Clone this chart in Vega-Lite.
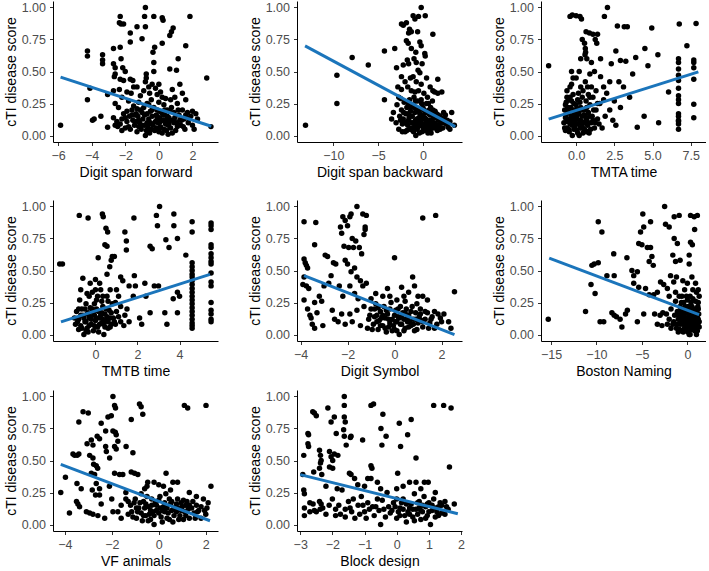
{
"$schema":"https://vega.github.io/schema/vega-lite/v6.json",
"padding":{"left":4,"top":1,"right":0,"bottom":0},
"background":"white",
"config":{
"view":{"stroke":null},
"font":"Liberation Sans",
"axis":{"grid":false,"domainColor":"black","domainWidth":1,"tickColor":"#333333","tickSize":3.5,"tickWidth":1,"labelColor":"#4d4d4d","labelFontSize":12.5,"labelFont":"Liberation Sans","titleFont":"Liberation Sans","titleFontSize":14,"titleFontWeight":"normal","titleColor":"black","labelPadding":4,"titlePadding":3,"labelOverlap":false,"labelFlush":false},
"concat":{"spacing":30},
"circle":{"size":30,"color":"black","opacity":1}
},
"datasets":{
"fits":[
{"p":1,"x":-5.85,"y":0.456},{"p":1,"x":3.12,"y":0.073},
{"p":2,"x":-13.15,"y":0.70},{"p":2,"x":3.6,"y":0.07},
{"p":3,"x":-1.8,"y":0.128},{"p":3,"x":8.0,"y":0.497},
{"p":4,"x":-1.64,"y":0.099},{"p":4,"x":5.45,"y":0.47},
{"p":5,"x":-3.85,"y":0.46},{"p":5,"x":2.55,"y":0.0},
{"p":6,"x":-15.2,"y":0.596},{"p":6,"x":1.29,"y":0.156},
{"p":7,"x":-4.17,"y":0.47},{"p":7,"x":2.18,"y":0.03},
{"p":8,"x":-3.0,"y":0.39},{"p":8,"x":1.9,"y":0.085}
],
"d1":[{"x":-5.85,"y":0.08},{"x":-4.25,"y":0.66},{"x":-4.25,"y":0.62},{"x":-4.25,"y":0.28},{"x":-4.1,"y":0.37},{"x":-3.95,"y":0.12},{"x":-3.85,"y":0.13},{"x":-3.45,"y":0.15},{"x":-3.35,"y":0.63},{"x":-3.35,"y":0.59},{"x":-3.35,"y":0.56},{"x":-3.05,"y":0.32},{"x":-3.05,"y":0.065},{"x":-2.7,"y":0.68},{"x":-2.7,"y":0.56},{"x":-2.6,"y":0.53},{"x":-2.6,"y":0.48},{"x":-2.65,"y":0.46},{"x":-2.7,"y":0.35},{"x":-2.6,"y":0.25},{"x":-2.7,"y":0.14},{"x":-2.6,"y":0.08},{"x":-2.5,"y":0.11},{"x":-2.45,"y":0.07},{"x":-2.3,"y":0.93},{"x":-2.35,"y":0.88},{"x":-2.25,"y":0.87},{"x":-2.1,"y":0.87},{"x":-2.3,"y":0.69},{"x":-2.25,"y":0.6},{"x":-2.15,"y":0.53},{"x":-2.0,"y":0.5},{"x":-2.3,"y":0.44},{"x":-2.1,"y":0.43},{"x":-2.35,"y":0.36},{"x":-2.2,"y":0.3},{"x":-2.4,"y":0.22},{"x":-2.1,"y":0.17},{"x":-2.2,"y":0.13},{"x":-2.3,"y":0.09},{"x":-2.0,"y":0.06},{"x":-1.7,"y":0.8},{"x":-1.7,"y":0.73},{"x":-1.7,"y":0.44},{"x":-1.55,"y":0.43},{"x":-1.5,"y":0.38},{"x":-1.65,"y":0.33},{"x":-1.8,"y":0.27},{"x":-1.6,"y":0.2},{"x":-1.75,"y":0.15},{"x":-1.55,"y":0.12},{"x":-1.7,"y":0.05},{"x":-1.45,"y":0.08},{"x":-1.3,"y":0.85},{"x":-1.0,"y":0.755},{"x":-0.85,"y":0.93},{"x":-0.8,"y":0.85},{"x":-0.8,"y":1.0},{"x":-0.75,"y":0.48},{"x":-0.75,"y":0.45},{"x":-0.8,"y":0.42},{"x":-0.9,"y":0.35},{"x":-1.1,"y":0.31},{"x":-1.2,"y":0.26},{"x":-1.3,"y":0.21},{"x":-1.0,"y":0.18},{"x":-1.25,"y":0.15},{"x":-0.95,"y":0.13},{"x":-1.15,"y":0.1},{"x":-0.85,"y":0.08},{"x":-1.05,"y":0.05},{"x":-0.8,"y":0.0},{"x":-1.35,"y":0.17},{"x":-1.4,"y":0.11},{"x":-0.3,"y":0.93},{"x":-0.25,"y":0.69},{"x":-0.3,"y":0.57},{"x":-0.35,"y":0.65},{"x":-0.3,"y":0.5},{"x":-0.4,"y":0.4},{"x":-0.2,"y":0.37},{"x":-0.55,"y":0.33},{"x":-0.45,"y":0.28},{"x":-0.6,"y":0.24},{"x":-0.3,"y":0.22},{"x":-0.5,"y":0.19},{"x":-0.7,"y":0.17},{"x":-0.4,"y":0.15},{"x":-0.6,"y":0.13},{"x":-0.2,"y":0.11},{"x":-0.5,"y":0.1},{"x":-0.35,"y":0.08},{"x":-0.65,"y":0.06},{"x":-0.25,"y":0.04},{"x":-0.55,"y":0.02},{"x":0.2,"y":0.72},{"x":0.2,"y":0.92},{"x":0.25,"y":0.9},{"x":0.0,"y":0.4},{"x":0.1,"y":0.34},{"x":0.2,"y":0.3},{"x":0.0,"y":0.26},{"x":0.3,"y":0.24},{"x":-0.1,"y":0.2},{"x":0.15,"y":0.18},{"x":0.35,"y":0.16},{"x":0.05,"y":0.14},{"x":0.25,"y":0.12},{"x":-0.05,"y":0.1},{"x":0.4,"y":0.09},{"x":0.1,"y":0.07},{"x":0.3,"y":0.05},{"x":0.0,"y":0.03},{"x":0.55,"y":0.01},{"x":0.5,"y":0.2},{"x":0.6,"y":0.14},{"x":0.65,"y":0.78},{"x":0.75,"y":0.81},{"x":0.85,"y":0.84},{"x":0.65,"y":0.52},{"x":1.05,"y":0.51},{"x":1.25,"y":0.4},{"x":1.15,"y":0.6},{"x":0.8,"y":0.36},{"x":0.95,"y":0.3},{"x":1.1,"y":0.25},{"x":0.75,"y":0.22},{"x":0.9,"y":0.18},{"x":1.2,"y":0.16},{"x":0.85,"y":0.12},{"x":1.05,"y":0.1},{"x":1.3,"y":0.08},{"x":0.7,"y":0.06},{"x":1.0,"y":0.04},{"x":1.4,"y":0.2},{"x":1.5,"y":0.13},{"x":1.85,"y":0.93},{"x":1.6,"y":0.7},{"x":1.6,"y":0.28},{"x":1.7,"y":0.18},{"x":1.9,"y":0.15},{"x":1.75,"y":0.1},{"x":2.0,"y":0.08},{"x":2.2,"y":0.17},{"x":2.3,"y":0.13},{"x":2.1,"y":0.05},{"x":1.55,"y":0.05},{"x":2.85,"y":0.45},{"x":3.1,"y":0.07},{"x":-1.9,"y":0.11},{"x":-1.2,"y":0.07},{"x":-0.15,"y":0.16},{"x":0.45,"y":0.12},{"x":0.95,"y":0.14},{"x":-0.7,"y":0.1},{"x":0.05,"y":0.06},{"x":1.35,"y":0.12},{"x":-1.6,"y":0.16},{"x":0.6,"y":0.09},{"x":-2.2,"y":0.04},{"x":-2.0,"y":0.14},{"x":-1.9,"y":0.19},{"x":-1.8,"y":0.07},{"x":-1.5,"y":0.23},{"x":-1.45,"y":0.16},{"x":-1.3,"y":0.03},{"x":-1.2,"y":0.12},{"x":-1.1,"y":0.2},{"x":-1.0,"y":0.08},{"x":-0.9,"y":0.22},{"x":-0.85,"y":0.16},{"x":-0.75,"y":0.04},{"x":-0.7,"y":0.25},{"x":-0.6,"y":0.09},{"x":-0.45,"y":0.05},{"x":-0.4,"y":0.2},{"x":-0.15,"y":0.06},{"x":-0.1,"y":0.14},{"x":0.05,"y":0.19},{"x":0.1,"y":0.11},{"x":0.2,"y":0.02},{"x":0.25,"y":0.16},{"x":0.35,"y":0.2},{"x":0.45,"y":0.04},{"x":0.5,"y":0.15},{"x":0.55,"y":0.08},{"x":0.65,"y":0.19},{"x":0.7,"y":0.12},{"x":0.8,"y":0.02},{"x":0.9,"y":0.1},{"x":1.1,"y":0.07},{"x":1.15,"y":0.2},{"x":1.25,"y":0.12},{"x":1.45,"y":0.07},{"x":1.6,"y":0.16},{"x":1.8,"y":0.13},{"x":2.0,"y":0.19},{"x":-1.9,"y":0.34},{"x":-1.3,"y":0.38},{"x":-0.6,"y":0.38},{"x":0.4,"y":0.29},{"x":0.7,"y":0.28},{"x":1.4,"y":0.33},{"x":-0.1,"y":0.32}],
"d2":[{"x":-13.1,"y":0.08},{"x":-9.6,"y":0.47},{"x":-9.6,"y":0.25},{"x":-7.9,"y":0.61},{"x":-6.1,"y":0.55},{"x":-4.3,"y":0.66},{"x":-4.3,"y":0.28},{"x":-0.2,"y":1.0},{"x":0.25,"y":0.935},{"x":-1.1,"y":0.935},{"x":-0.9,"y":0.91},{"x":-2.4,"y":0.87},{"x":-2.2,"y":0.86},{"x":-1.85,"y":0.88},{"x":-1.5,"y":0.83},{"x":-1.3,"y":0.81},{"x":-0.6,"y":0.81},{"x":1.1,"y":0.79},{"x":-1.85,"y":0.74},{"x":-1.65,"y":0.72},{"x":-0.35,"y":0.73},{"x":-0.2,"y":0.7},{"x":-3.15,"y":0.68},{"x":-1.3,"y":0.68},{"x":0.2,"y":0.64},{"x":0.25,"y":0.62},{"x":-1.75,"y":0.59},{"x":-1.6,"y":0.56},{"x":-0.75,"y":0.57},{"x":-2.95,"y":0.53},{"x":-0.55,"y":0.51},{"x":-0.35,"y":0.49},{"x":1.65,"y":0.44},{"x":-2.4,"y":0.46},{"x":-1.1,"y":0.46},{"x":-0.75,"y":0.42},{"x":-0.2,"y":0.4},{"x":-2.8,"y":0.38},{"x":-2.4,"y":0.36},{"x":-1.7,"y":0.38},{"x":-1.3,"y":0.35},{"x":-0.9,"y":0.34},{"x":1.1,"y":0.35},{"x":1.3,"y":0.34},{"x":1.65,"y":0.33},{"x":2.1,"y":0.34},{"x":-0.5,"y":0.93},{"x":-1.0,"y":0.6},{"x":-2.0,"y":0.42},{"x":0.4,"y":0.45},{"x":-0.1,"y":0.56},{"x":-3.5,"y":0.13},{"x":-3.3,"y":0.18},{"x":-3.0,"y":0.1},{"x":-2.9,"y":0.24},{"x":-2.7,"y":0.05},{"x":-2.6,"y":0.15},{"x":-2.5,"y":0.29},{"x":-2.4,"y":0.2},{"x":-2.3,"y":0.09},{"x":-2.2,"y":0.13},{"x":-2.1,"y":0.26},{"x":-2.0,"y":0.03},{"x":-1.9,"y":0.17},{"x":-1.8,"y":0.22},{"x":-1.7,"y":0.08},{"x":-1.6,"y":0.12},{"x":-1.5,"y":0.28},{"x":-1.4,"y":0.19},{"x":-1.3,"y":0.06},{"x":-1.2,"y":0.15},{"x":-1.1,"y":0.24},{"x":-1.0,"y":0.1},{"x":-0.9,"y":0.18},{"x":-0.8,"y":0.0},{"x":-0.7,"y":0.13},{"x":-0.6,"y":0.27},{"x":-0.5,"y":0.07},{"x":-0.4,"y":0.2},{"x":-0.3,"y":0.11},{"x":-0.2,"y":0.16},{"x":-0.1,"y":0.03},{"x":0.0,"y":0.22},{"x":0.1,"y":0.09},{"x":0.2,"y":0.14},{"x":0.3,"y":0.05},{"x":0.4,"y":0.19},{"x":0.5,"y":0.12},{"x":0.6,"y":0.25},{"x":0.7,"y":0.08},{"x":0.8,"y":0.16},{"x":0.9,"y":0.02},{"x":1.0,"y":0.11},{"x":1.1,"y":0.2},{"x":1.2,"y":0.06},{"x":1.3,"y":0.14},{"x":1.4,"y":0.09},{"x":1.5,"y":0.17},{"x":1.6,"y":0.04},{"x":1.7,"y":0.12},{"x":1.8,"y":0.08},{"x":1.9,"y":0.15},{"x":2.0,"y":0.1},{"x":2.2,"y":0.06},{"x":2.4,"y":0.13},{"x":2.6,"y":0.09},{"x":2.8,"y":0.065},{"x":3.0,"y":0.11},{"x":3.2,"y":0.18},{"x":3.5,"y":0.08},{"x":-1.45,"y":0.05},{"x":-1.05,"y":0.03},{"x":-0.65,"y":0.05},{"x":-0.25,"y":0.08},{"x":0.15,"y":0.04},{"x":0.55,"y":0.02},{"x":0.95,"y":0.07},{"x":-1.25,"y":0.1},{"x":-0.85,"y":0.12},{"x":-0.45,"y":0.14},{"x":-0.05,"y":0.13},{"x":0.35,"y":0.1},{"x":0.75,"y":0.12},{"x":1.15,"y":0.14},{"x":-1.85,"y":0.1},{"x":-2.15,"y":0.18},{"x":-0.55,"y":0.2},{"x":0.25,"y":0.18},{"x":0.85,"y":0.22},{"x":-0.15,"y":0.25},{"x":-1.0,"y":0.3},{"x":0.5,"y":0.3},{"x":-2.7,"y":0.3},{"x":2.3,"y":0.18},{"x":1.9,"y":0.05},{"x":-0.75,"y":0.09},{"x":0.05,"y":0.06},{"x":0.65,"y":0.17},{"x":-1.6,"y":0.17},{"x":-0.95,"y":0.22},{"x":-2.5,"y":0.12},{"x":-2.3,"y":0.03},{"x":-2.0,"y":0.1},{"x":-1.8,"y":0.04},{"x":-1.65,"y":0.25},{"x":-1.55,"y":0.14},{"x":-1.35,"y":0.22},{"x":-1.15,"y":0.04},{"x":-0.95,"y":0.07},{"x":-0.85,"y":0.27},{"x":-0.7,"y":0.19},{"x":-0.6,"y":0.1},{"x":-0.4,"y":0.02},{"x":-0.35,"y":0.17},{"x":-0.2,"y":0.28},{"x":-0.1,"y":0.09},{"x":0.0,"y":0.15},{"x":0.1,"y":0.2},{"x":0.2,"y":0.07},{"x":0.3,"y":0.13},{"x":0.4,"y":0.25},{"x":0.45,"y":0.06},{"x":0.6,"y":0.1},{"x":0.7,"y":0.2},{"x":0.8,"y":0.04},{"x":1.0,"y":0.17},{"x":1.05,"y":0.27},{"x":1.2,"y":0.1},{"x":1.35,"y":0.19},{"x":1.5,"y":0.06},{"x":1.7,"y":0.16},{"x":2.0,"y":0.14},{"x":2.2,"y":0.1},{"x":2.5,"y":0.16},{"x":2.7,"y":0.12},{"x":3.0,"y":0.05},{"x":-0.5,"y":0.35},{"x":0.1,"y":0.33},{"x":-1.4,"y":0.45},{"x":0.8,"y":0.38},{"x":-2.2,"y":0.55},{"x":-0.8,"y":0.65},{"x":-1.6,"y":0.8}],
"d3":[{"x":-1.8,"y":0.545},{"x":-0.4,"y":0.93},{"x":-0.25,"y":0.94},{"x":0.0,"y":0.935},{"x":0.25,"y":0.93},{"x":0.35,"y":0.91},{"x":0.65,"y":0.81},{"x":0.87,"y":0.8},{"x":1.1,"y":0.79},{"x":1.4,"y":0.79},{"x":1.25,"y":0.75},{"x":1.35,"y":0.72},{"x":0.55,"y":0.72},{"x":0.6,"y":0.68},{"x":0.62,"y":0.65},{"x":0.58,"y":0.63},{"x":0.7,"y":0.6},{"x":0.4,"y":0.75},{"x":1.85,"y":0.93},{"x":2.05,"y":1.0},{"x":2.7,"y":0.855},{"x":3.15,"y":0.85},{"x":3.35,"y":0.85},{"x":4.95,"y":0.84},{"x":6.75,"y":0.87},{"x":7.85,"y":0.875},{"x":7.25,"y":0.7},{"x":4.5,"y":0.68},{"x":5.35,"y":0.63},{"x":4.7,"y":0.545},{"x":2.9,"y":0.585},{"x":3.25,"y":0.58},{"x":3.9,"y":0.61},{"x":2.3,"y":0.56},{"x":4.0,"y":0.065},{"x":4.45,"y":0.15},{"x":5.4,"y":0.1},{"x":6.05,"y":0.34},{"x":2.6,"y":0.66},{"x":3.7,"y":0.48},{"x":3.1,"y":0.38},{"x":2.8,"y":0.42},{"x":2.2,"y":0.42},{"x":1.8,"y":0.38},{"x":1.6,"y":0.46},{"x":1.2,"y":0.5},{"x":0.9,"y":0.48},{"x":3.5,"y":0.3},{"x":2.5,"y":0.27},{"x":2.9,"y":0.22},{"x":2.4,"y":0.12},{"x":2.6,"y":0.08},{"x":1.9,"y":0.15},{"x":2.2,"y":0.2},{"x":6.7,"y":0.6},{"x":6.7,"y":0.57},{"x":6.7,"y":0.52},{"x":6.7,"y":0.47},{"x":6.7,"y":0.43},{"x":6.7,"y":0.37},{"x":6.7,"y":0.31},{"x":6.7,"y":0.28},{"x":6.7,"y":0.25},{"x":6.7,"y":0.17},{"x":6.7,"y":0.15},{"x":6.7,"y":0.12},{"x":6.7,"y":0.11},{"x":6.7,"y":0.09},{"x":6.7,"y":0.05},{"x":7.7,"y":0.59},{"x":7.7,"y":0.57},{"x":7.7,"y":0.53},{"x":7.7,"y":0.44},{"x":7.7,"y":0.245},{"x":7.7,"y":0.14},{"x":-0.8,"y":0.1},{"x":-0.7,"y":0.14},{"x":-0.75,"y":0.2},{"x":-0.6,"y":0.06},{"x":-0.65,"y":0.26},{"x":-0.5,"y":0.12},{"x":-0.55,"y":0.18},{"x":-0.45,"y":0.03},{"x":-0.4,"y":0.3},{"x":-0.4,"y":0.09},{"x":-0.35,"y":0.22},{"x":-0.3,"y":0.15},{"x":-0.25,"y":0.0},{"x":-0.2,"y":0.11},{"x":-0.15,"y":0.25},{"x":-0.1,"y":0.07},{"x":-0.05,"y":0.19},{"x":0.0,"y":0.13},{"x":0.05,"y":0.04},{"x":0.1,"y":0.28},{"x":0.1,"y":0.09},{"x":0.15,"y":0.17},{"x":0.2,"y":0.0},{"x":0.25,"y":0.12},{"x":0.3,"y":0.22},{"x":0.35,"y":0.06},{"x":0.4,"y":0.15},{"x":0.45,"y":0.35},{"x":0.5,"y":0.1},{"x":0.55,"y":0.2},{"x":0.6,"y":0.04},{"x":0.65,"y":0.27},{"x":0.7,"y":0.13},{"x":0.75,"y":0.08},{"x":0.8,"y":0.18},{"x":0.85,"y":0.02},{"x":0.9,"y":0.24},{"x":1.0,"y":0.1},{"x":1.05,"y":0.15},{"x":1.1,"y":0.3},{"x":1.2,"y":0.06},{"x":1.3,"y":0.2},{"x":1.4,"y":0.13},{"x":1.5,"y":0.09},{"x":1.55,"y":0.25},{"x":1.7,"y":0.06},{"x":-0.6,"y":0.35},{"x":-0.3,"y":0.4},{"x":0.0,"y":0.45},{"x":0.2,"y":0.5},{"x":-0.2,"y":0.32},{"x":0.3,"y":0.38},{"x":0.6,"y":0.42},{"x":-0.5,"y":0.28},{"x":0.15,"y":0.33},{"x":-0.7,"y":0.04},{"x":-0.15,"y":0.05},{"x":0.45,"y":0.02},{"x":0.8,"y":0.32},{"x":1.0,"y":0.38},{"x":-0.1,"y":0.17},{"x":0.35,"y":0.11},{"x":-0.45,"y":0.13},{"x":0.05,"y":0.21},{"x":0.6,"y":0.15},{"x":-0.25,"y":0.08},{"x":0.25,"y":0.06},{"x":0.7,"y":0.22},{"x":1.6,"y":0.6},{"x":1.0,"y":0.57},{"x":0.3,"y":0.6},{"x":-0.3,"y":0.5},{"x":1.8,"y":0.28},{"x":2.0,"y":0.33},{"x":-0.75,"y":0.06},{"x":-0.7,"y":0.24},{"x":-0.65,"y":0.16},{"x":-0.6,"y":0.11},{"x":-0.55,"y":0.22},{"x":-0.5,"y":0.05},{"x":-0.45,"y":0.18},{"x":-0.35,"y":0.1},{"x":-0.3,"y":0.27},{"x":-0.2,"y":0.14},{"x":-0.15,"y":0.2},{"x":-0.05,"y":0.1},{"x":0.0,"y":0.24},{"x":0.05,"y":0.15},{"x":0.1,"y":0.02},{"x":0.2,"y":0.19},{"x":0.25,"y":0.26},{"x":0.3,"y":0.1},{"x":0.4,"y":0.07},{"x":0.45,"y":0.2},{"x":0.5,"y":0.16},{"x":0.55,"y":0.05},{"x":0.65,"y":0.12},{"x":0.7,"y":0.03},{"x":0.8,"y":0.1},{"x":0.9,"y":0.15},{"x":0.95,"y":0.05},{"x":1.1,"y":0.12},{"x":1.15,"y":0.2},{"x":1.25,"y":0.1},{"x":-0.6,"y":0.3},{"x":-0.2,"y":0.45},{"x":0.4,"y":0.3},{"x":0.9,"y":0.3},{"x":1.3,"y":0.35},{"x":-0.4,"y":0.38},{"x":0.75,"y":0.38},{"x":1.4,"y":0.25}],
"d4":[{"x":-1.7,"y":0.55},{"x":-1.57,"y":0.55},{"x":-0.77,"y":0.93},{"x":-0.35,"y":0.91},{"x":0.33,"y":0.94},{"x":0.37,"y":0.92},{"x":1.83,"y":0.91},{"x":2.9,"y":0.93},{"x":2.95,"y":0.85},{"x":3.05,"y":1.0},{"x":3.73,"y":0.94},{"x":3.73,"y":0.85},{"x":3.9,"y":0.75},{"x":4.6,"y":0.88},{"x":4.6,"y":0.8},{"x":4.6,"y":0.56},{"x":4.6,"y":0.53},{"x":4.6,"y":0.5},{"x":4.6,"y":0.47},{"x":4.6,"y":0.45},{"x":4.6,"y":0.42},{"x":4.6,"y":0.39},{"x":4.6,"y":0.36},{"x":4.6,"y":0.33},{"x":4.6,"y":0.3},{"x":4.6,"y":0.27},{"x":4.6,"y":0.24},{"x":4.6,"y":0.21},{"x":4.6,"y":0.18},{"x":4.6,"y":0.15},{"x":4.6,"y":0.12},{"x":4.6,"y":0.09},{"x":4.6,"y":0.07},{"x":4.6,"y":0.05},{"x":5.5,"y":0.87},{"x":5.5,"y":0.85},{"x":5.5,"y":0.82},{"x":5.5,"y":0.7},{"x":5.5,"y":0.68},{"x":5.5,"y":0.63},{"x":5.5,"y":0.6},{"x":5.5,"y":0.57},{"x":5.5,"y":0.55},{"x":5.5,"y":0.48},{"x":5.5,"y":0.41},{"x":5.5,"y":0.38},{"x":5.5,"y":0.25},{"x":5.5,"y":0.19},{"x":5.5,"y":0.16},{"x":5.5,"y":0.12},{"x":5.5,"y":0.1},{"x":4.3,"y":0.62},{"x":3.35,"y":0.74},{"x":3.5,"y":0.68},{"x":2.6,"y":0.69},{"x":2.7,"y":0.67},{"x":1.4,"y":0.8},{"x":1.47,"y":0.73},{"x":1.47,"y":0.66},{"x":0.5,"y":0.83},{"x":0.58,"y":0.8},{"x":0.45,"y":0.7},{"x":0.55,"y":0.69},{"x":0.8,"y":0.61},{"x":0.9,"y":0.61},{"x":0.75,"y":0.58},{"x":0.68,"y":0.53},{"x":0.13,"y":0.6},{"x":0.55,"y":0.47},{"x":1.2,"y":0.45},{"x":1.3,"y":0.42},{"x":1.6,"y":0.38},{"x":1.85,"y":0.46},{"x":1.9,"y":0.38},{"x":2.35,"y":0.4},{"x":2.4,"y":0.3},{"x":2.8,"y":0.38},{"x":3.0,"y":0.38},{"x":3.3,"y":0.17},{"x":3.4,"y":0.08},{"x":3.9,"y":0.17},{"x":3.9,"y":0.33},{"x":4.0,"y":0.3},{"x":3.7,"y":0.28},{"x":2.6,"y":0.17},{"x":2.1,"y":0.13},{"x":2.2,"y":0.08},{"x":1.8,"y":0.3},{"x":1.5,"y":0.2},{"x":1.4,"y":0.15},{"x":1.35,"y":0.07},{"x":0.95,"y":0.25},{"x":1.1,"y":0.3},{"x":1.0,"y":0.18},{"x":0.9,"y":0.1},{"x":-0.9,"y":0.18},{"x":-0.8,"y":0.12},{"x":-0.75,"y":0.27},{"x":-0.7,"y":0.07},{"x":-0.65,"y":0.2},{"x":-0.6,"y":0.15},{"x":-0.55,"y":0.0},{"x":-0.5,"y":0.1},{"x":-0.45,"y":0.24},{"x":-0.4,"y":0.05},{"x":-0.35,"y":0.17},{"x":-0.3,"y":0.13},{"x":-0.25,"y":0.4},{"x":-0.2,"y":0.08},{"x":-0.15,"y":0.2},{"x":-0.1,"y":0.03},{"x":-0.05,"y":0.15},{"x":0.0,"y":0.11},{"x":0.05,"y":0.27},{"x":0.1,"y":0.06},{"x":0.15,"y":0.18},{"x":0.2,"y":0.13},{"x":0.25,"y":0.35},{"x":0.3,"y":0.09},{"x":0.35,"y":0.22},{"x":0.4,"y":0.0},{"x":0.45,"y":0.16},{"x":0.5,"y":0.11},{"x":0.55,"y":0.3},{"x":0.6,"y":0.05},{"x":0.65,"y":0.19},{"x":0.7,"y":0.13},{"x":0.75,"y":0.08},{"x":0.8,"y":0.24},{"x":-0.6,"y":0.44},{"x":-0.3,"y":0.3},{"x":0.0,"y":0.43},{"x":0.2,"y":0.4},{"x":-0.15,"y":0.33},{"x":0.1,"y":0.3},{"x":-0.45,"y":0.1},{"x":-0.05,"y":0.07},{"x":0.3,"y":0.17},{"x":-0.25,"y":0.14},{"x":0.05,"y":0.2},{"x":0.45,"y":0.06},{"x":-0.8,"y":0.04},{"x":-0.35,"y":0.02},{"x":0.15,"y":0.02},{"x":0.6,"y":0.26},{"x":-1.0,"y":0.13},{"x":-0.95,"y":0.08},{"x":-0.85,"y":0.1},{"x":-0.8,"y":0.2},{"x":-0.7,"y":0.15},{"x":-0.65,"y":0.05},{"x":-0.55,"y":0.13},{"x":-0.5,"y":0.2},{"x":-0.45,"y":0.03},{"x":-0.4,"y":0.16},{"x":-0.3,"y":0.07},{"x":-0.25,"y":0.21},{"x":-0.2,"y":0.12},{"x":-0.1,"y":0.17},{"x":-0.05,"y":0.24},{"x":0.0,"y":0.06},{"x":0.05,"y":0.13},{"x":0.1,"y":0.19},{"x":0.2,"y":0.08},{"x":0.25,"y":0.15},{"x":0.3,"y":0.26},{"x":0.35,"y":0.12},{"x":0.4,"y":0.08},{"x":0.5,"y":0.2},{"x":0.55,"y":0.14},{"x":0.6,"y":0.1},{"x":0.7,"y":0.06},{"x":0.75,"y":0.17},{"x":0.85,"y":0.13},{"x":0.95,"y":0.08},{"x":1.1,"y":0.14},{"x":1.2,"y":0.1},{"x":-0.4,"y":0.32},{"x":0.0,"y":0.35},{"x":0.35,"y":0.3},{"x":0.7,"y":0.35},{"x":-0.7,"y":0.35},{"x":1.0,"y":0.35},{"x":1.2,"y":0.22},{"x":1.6,"y":0.1}],
"d5":[{"x":-3.85,"y":0.88},{"x":-3.35,"y":0.875},{"x":-3.4,"y":0.7},{"x":-3.85,"y":0.59},{"x":-3.8,"y":0.56},{"x":-3.75,"y":0.54},{"x":-3.7,"y":0.52},{"x":-3.85,"y":0.45},{"x":-3.9,"y":0.39},{"x":-3.75,"y":0.38},{"x":-3.65,"y":0.36},{"x":-3.85,"y":0.27},{"x":-3.7,"y":0.2},{"x":-3.6,"y":0.15},{"x":-3.55,"y":0.13},{"x":-3.5,"y":0.08},{"x":-3.4,"y":0.05},{"x":-3.4,"y":0.25},{"x":-3.3,"y":0.17},{"x":-3.2,"y":0.3},{"x":-3.1,"y":0.26},{"x":-3.05,"y":0.07},{"x":-3.0,"y":0.38},{"x":-2.95,"y":0.62},{"x":-2.85,"y":0.61},{"x":-2.8,"y":0.4},{"x":-2.7,"y":0.46},{"x":-2.6,"y":0.56},{"x":-2.5,"y":0.55},{"x":-2.65,"y":0.19},{"x":-2.55,"y":0.12},{"x":-2.4,"y":0.1},{"x":-2.35,"y":0.38},{"x":-2.2,"y":0.3},{"x":-2.25,"y":0.16},{"x":-2.1,"y":0.08},{"x":-2.3,"y":0.84},{"x":-2.25,"y":0.79},{"x":-2.2,"y":0.92},{"x":-2.1,"y":0.89},{"x":-2.15,"y":0.69},{"x":-2.0,"y":0.85},{"x":-1.95,"y":0.68},{"x":-1.9,"y":0.92},{"x":-1.85,"y":0.94},{"x":-1.8,"y":0.75},{"x":-1.75,"y":0.68},{"x":-1.6,"y":1.0},{"x":-1.65,"y":0.73},{"x":-1.5,"y":0.68},{"x":-1.4,"y":0.63},{"x":-1.35,"y":0.94},{"x":-1.3,"y":0.78},{"x":-1.25,"y":0.84},{"x":-1.2,"y":0.93},{"x":-1.25,"y":0.82},{"x":-2.1,"y":0.58},{"x":-2.0,"y":0.55},{"x":-1.85,"y":0.49},{"x":-1.7,"y":0.52},{"x":-1.6,"y":0.45},{"x":-1.45,"y":0.42},{"x":-1.35,"y":0.38},{"x":-1.2,"y":0.4},{"x":-1.9,"y":0.38},{"x":-1.7,"y":0.32},{"x":-1.55,"y":0.28},{"x":-1.9,"y":0.16},{"x":-1.8,"y":0.1},{"x":-1.6,"y":0.19},{"x":-1.45,"y":0.07},{"x":-1.3,"y":0.22},{"x":-1.1,"y":0.12},{"x":-1.15,"y":0.05},{"x":1.2,"y":0.91},{"x":1.75,"y":0.93},{"x":0.0,"y":0.6},{"x":0.77,"y":0.45},{"x":2.55,"y":0.335},{"x":0.6,"y":0.33},{"x":0.3,"y":0.37},{"x":-0.3,"y":0.36},{"x":-0.8,"y":0.32},{"x":-0.5,"y":0.3},{"x":1.0,"y":0.3},{"x":1.4,"y":0.27},{"x":0.85,"y":0.38},{"x":-1.0,"y":0.2},{"x":-0.9,"y":0.08},{"x":-0.85,"y":0.14},{"x":-0.8,"y":0.24},{"x":-0.7,"y":0.04},{"x":-0.65,"y":0.11},{"x":-0.6,"y":0.18},{"x":-0.5,"y":0.07},{"x":-0.45,"y":0.22},{"x":-0.4,"y":0.13},{"x":-0.35,"y":0.02},{"x":-0.3,"y":0.16},{"x":-0.2,"y":0.09},{"x":-0.15,"y":0.25},{"x":-0.1,"y":0.12},{"x":0.0,"y":0.04},{"x":0.05,"y":0.19},{"x":0.1,"y":0.1},{"x":0.15,"y":0.14},{"x":0.2,"y":0.0},{"x":0.25,"y":0.22},{"x":0.3,"y":0.08},{"x":0.35,"y":0.17},{"x":0.4,"y":0.12},{"x":0.45,"y":0.05},{"x":0.5,"y":0.2},{"x":0.55,"y":0.1},{"x":0.6,"y":0.15},{"x":0.7,"y":0.07},{"x":0.75,"y":0.22},{"x":0.8,"y":0.12},{"x":0.85,"y":0.03},{"x":0.9,"y":0.17},{"x":1.0,"y":0.09},{"x":1.05,"y":0.14},{"x":1.1,"y":0.2},{"x":1.2,"y":0.06},{"x":1.3,"y":0.12},{"x":1.4,"y":0.17},{"x":1.5,"y":0.09},{"x":1.6,"y":0.14},{"x":1.7,"y":0.05},{"x":1.85,"y":0.16},{"x":2.0,"y":0.1},{"x":2.3,"y":0.1},{"x":2.4,"y":0.05},{"x":-0.55,"y":0.13},{"x":-0.25,"y":0.06},{"x":0.2,"y":0.13},{"x":0.65,"y":0.1},{"x":1.15,"y":0.11},{"x":-0.75,"y":0.15},{"x":0.45,"y":0.26},{"x":-0.05,"y":0.07},{"x":0.95,"y":0.24},{"x":0.1,"y":0.03},{"x":-1.05,"y":0.15},{"x":-0.95,"y":0.04},{"x":-0.85,"y":0.2},{"x":-0.75,"y":0.1},{"x":-0.7,"y":0.21},{"x":-0.6,"y":0.07},{"x":-0.5,"y":0.15},{"x":-0.4,"y":0.05},{"x":-0.35,"y":0.19},{"x":-0.25,"y":0.12},{"x":-0.2,"y":0.2},{"x":-0.1,"y":0.03},{"x":0.0,"y":0.15},{"x":0.05,"y":0.1},{"x":0.15,"y":0.2},{"x":0.25,"y":0.08},{"x":0.3,"y":0.14},{"x":0.4,"y":0.03},{"x":0.45,"y":0.17},{"x":0.55,"y":0.13},{"x":0.6,"y":0.06},{"x":0.7,"y":0.18},{"x":0.8,"y":0.08},{"x":0.9,"y":0.12},{"x":0.95,"y":0.04},{"x":1.1,"y":0.16},{"x":1.2,"y":0.1},{"x":1.3,"y":0.18},{"x":1.45,"y":0.05},{"x":1.55,"y":0.12},{"x":1.7,"y":0.18},{"x":1.8,"y":0.08},{"x":1.95,"y":0.13},{"x":2.1,"y":0.16},{"x":-0.2,"y":0.3},{"x":0.4,"y":0.3},{"x":1.2,"y":0.3},{"x":-1.0,"y":0.28},{"x":0.1,"y":0.27}],
"d6":[{"x":-15.3,"y":0.12},{"x":-9.8,"y":0.88},{"x":-9.4,"y":0.8},{"x":-10.5,"y":0.54},{"x":-10.25,"y":0.55},{"x":-9.8,"y":0.56},{"x":-10.6,"y":0.39},{"x":-10.15,"y":0.32},{"x":-11.2,"y":0.18},{"x":-9.6,"y":0.1},{"x":-9.2,"y":0.1},{"x":-8.85,"y":0.46},{"x":-8.1,"y":0.63},{"x":-8.05,"y":0.46},{"x":-8.3,"y":0.17},{"x":-8.05,"y":0.15},{"x":-7.8,"y":0.14},{"x":-7.4,"y":0.12},{"x":-7.2,"y":0.06},{"x":-6.65,"y":0.6},{"x":-6.8,"y":0.16},{"x":-6.6,"y":0.19},{"x":-6.1,"y":0.5},{"x":-5.9,"y":0.46},{"x":-5.9,"y":0.4},{"x":-5.5,"y":0.1},{"x":-4.9,"y":0.94},{"x":-5.15,"y":0.8},{"x":-4.8,"y":0.84},{"x":-5.35,"y":0.71},{"x":-5.0,"y":0.7},{"x":-4.4,"y":0.68},{"x":-4.05,"y":0.68},{"x":-5.5,"y":0.49},{"x":-5.35,"y":0.37},{"x":-4.6,"y":0.36},{"x":-4.2,"y":0.31},{"x":-4.8,"y":0.16},{"x":-4.05,"y":0.88},{"x":-3.9,"y":0.61},{"x":-4.2,"y":0.57},{"x":-3.75,"y":0.54},{"x":-2.5,"y":1.0},{"x":-2.4,"y":0.86},{"x":-2.0,"y":0.84},{"x":-1.45,"y":0.92},{"x":-0.9,"y":0.93},{"x":0.35,"y":0.93},{"x":0.75,"y":0.92},{"x":1.1,"y":0.93},{"x":0.8,"y":0.82},{"x":0.35,"y":0.72},{"x":0.55,"y":0.7},{"x":0.2,"y":0.62},{"x":-1.45,"y":0.75},{"x":-1.1,"y":0.71},{"x":-1.6,"y":0.62},{"x":-1.3,"y":0.57},{"x":-0.8,"y":0.58},{"x":0.2,"y":0.55},{"x":-1.85,"y":0.46},{"x":-1.5,"y":0.41},{"x":-2.95,"y":0.41},{"x":-2.6,"y":0.39},{"x":-2.2,"y":0.36},{"x":-3.3,"y":0.33},{"x":-3.7,"y":0.31},{"x":-3.6,"y":0.16},{"x":-3.0,"y":0.15},{"x":-2.7,"y":0.17},{"x":-2.3,"y":0.16},{"x":-3.3,"y":0.08},{"x":-2.8,"y":0.07},{"x":-2.0,"y":0.3},{"x":-1.2,"y":0.45},{"x":-0.5,"y":0.42},{"x":0.0,"y":0.4},{"x":0.5,"y":0.45},{"x":1.0,"y":0.33},{"x":0.9,"y":0.4},{"x":-0.3,"y":0.35},{"x":-2.0,"y":0.12},{"x":-1.8,"y":0.2},{"x":-1.6,"y":0.08},{"x":-1.4,"y":0.15},{"x":-1.3,"y":0.26},{"x":-1.2,"y":0.05},{"x":-1.1,"y":0.18},{"x":-1.0,"y":0.12},{"x":-0.9,"y":0.3},{"x":-0.8,"y":0.08},{"x":-0.7,"y":0.2},{"x":-0.6,"y":0.03},{"x":-0.5,"y":0.15},{"x":-0.4,"y":0.25},{"x":-0.3,"y":0.1},{"x":-0.2,"y":0.18},{"x":-0.1,"y":0.05},{"x":0.0,"y":0.13},{"x":0.1,"y":0.22},{"x":0.2,"y":0.0},{"x":0.3,"y":0.1},{"x":0.4,"y":0.17},{"x":0.5,"y":0.06},{"x":0.6,"y":0.28},{"x":0.7,"y":0.12},{"x":0.8,"y":0.03},{"x":0.9,"y":0.2},{"x":1.0,"y":0.09},{"x":1.1,"y":0.15},{"x":1.2,"y":0.25},{"x":1.3,"y":0.06},{"x":1.2,"y":0.12},{"x":1.0,"y":0.18},{"x":0.8,"y":0.14},{"x":0.6,"y":0.09},{"x":0.4,"y":0.04},{"x":0.2,"y":0.16},{"x":0.0,"y":0.27},{"x":-0.2,"y":0.07},{"x":-0.4,"y":0.12},{"x":-0.6,"y":0.17},{"x":-0.8,"y":0.22},{"x":-1.0,"y":0.02},{"x":1.3,"y":0.3},{"x":1.1,"y":0.03},{"x":0.9,"y":0.07},{"x":0.7,"y":0.17},{"x":0.5,"y":0.22},{"x":0.3,"y":0.3},{"x":0.1,"y":0.08},{"x":-0.1,"y":0.2},{"x":-0.3,"y":0.05},{"x":-0.5,"y":0.08},{"x":-0.7,"y":0.12},{"x":1.2,"y":0.2},{"x":0.95,"y":0.12},{"x":0.65,"y":0.04},{"x":0.35,"y":0.13},{"x":0.05,"y":0.17},{"x":-1.1,"y":0.08},{"x":-0.95,"y":0.15},{"x":-0.85,"y":0.04},{"x":-0.75,"y":0.1},{"x":-0.65,"y":0.25},{"x":-0.55,"y":0.12},{"x":-0.45,"y":0.02},{"x":-0.35,"y":0.15},{"x":-0.25,"y":0.22},{"x":-0.15,"y":0.12},{"x":-0.05,"y":0.1},{"x":0.05,"y":0.02},{"x":0.15,"y":0.13},{"x":0.25,"y":0.07},{"x":0.35,"y":0.2},{"x":0.45,"y":0.1},{"x":0.55,"y":0.15},{"x":0.65,"y":0.2},{"x":0.75,"y":0.07},{"x":0.85,"y":0.18},{"x":0.95,"y":0.04},{"x":1.05,"y":0.12},{"x":1.15,"y":0.08},{"x":1.25,"y":0.16},{"x":1.3,"y":0.1},{"x":1.15,"y":0.22},{"x":0.9,"y":0.26},{"x":0.4,"y":0.25},{"x":-0.1,"y":0.3},{"x":-1.5,"y":0.1},{"x":-1.8,"y":0.05},{"x":-2.2,"y":0.08},{"x":-1.3,"y":0.33},{"x":0.6,"y":0.35},{"x":1.2,"y":0.35},{"x":-0.6,"y":0.3},{"x":1.0,"y":0.0},{"x":0.3,"y":0.0}],
"d7":[{"x":-4.17,"y":0.25},{"x":-3.97,"y":0.37},{"x":-3.8,"y":0.09},{"x":-3.65,"y":0.55},{"x":-3.58,"y":0.54},{"x":-3.4,"y":0.8},{"x":-3.47,"y":0.54},{"x":-3.4,"y":0.55},{"x":-3.48,"y":0.32},{"x":-3.5,"y":0.18},{"x":-3.44,"y":0.16},{"x":-3.37,"y":0.14},{"x":-3.22,"y":0.88},{"x":-3.0,"y":0.87},{"x":-3.3,"y":0.28},{"x":-3.08,"y":0.1},{"x":-2.94,"y":0.09},{"x":-2.8,"y":0.08},{"x":-3.05,"y":0.63},{"x":-2.87,"y":0.66},{"x":-2.8,"y":0.62},{"x":-2.94,"y":0.54},{"x":-2.8,"y":0.52},{"x":-2.77,"y":0.47},{"x":-2.66,"y":0.46},{"x":-2.6,"y":0.44},{"x":-2.87,"y":0.4},{"x":-2.73,"y":0.39},{"x":-2.66,"y":0.32},{"x":-2.52,"y":0.28},{"x":-2.83,"y":0.27},{"x":-2.69,"y":0.23},{"x":-2.52,"y":0.23},{"x":-2.45,"y":0.16},{"x":-2.59,"y":0.07},{"x":-2.3,"y":0.05},{"x":-2.62,"y":0.69},{"x":-2.52,"y":0.67},{"x":-2.45,"y":0.79},{"x":-2.26,"y":0.73},{"x":-2.16,"y":0.84},{"x":-2.02,"y":0.85},{"x":-1.95,"y":1.0},{"x":-1.88,"y":0.93},{"x":-1.84,"y":0.91},{"x":-2.26,"y":0.61},{"x":-2.23,"y":0.57},{"x":-2.09,"y":0.52},{"x":-1.95,"y":0.73},{"x":-1.85,"y":0.72},{"x":-1.81,"y":0.7},{"x":-1.74,"y":0.65},{"x":-1.88,"y":0.61},{"x":-1.81,"y":0.59},{"x":-1.88,"y":0.4},{"x":-1.67,"y":0.39},{"x":-1.53,"y":0.39},{"x":-1.39,"y":0.61},{"x":-1.17,"y":0.82},{"x":-1.1,"y":0.56},{"x":-1.17,"y":0.41},{"x":-1.03,"y":0.4},{"x":-0.89,"y":0.39},{"x":-0.82,"y":0.94},{"x":-0.75,"y":0.92},{"x":-0.68,"y":0.86},{"x":1.09,"y":0.93},{"x":1.23,"y":0.91},{"x":2.01,"y":0.93},{"x":2.22,"y":0.3},{"x":-0.47,"y":0.33},{"x":0.31,"y":0.4},{"x":-1.95,"y":0.1},{"x":-1.74,"y":0.1},{"x":-2.1,"y":0.3},{"x":-2.0,"y":0.2},{"x":-1.6,"y":0.15},{"x":-1.4,"y":0.25},{"x":-1.3,"y":0.08},{"x":-0.2,"y":0.33},{"x":0.0,"y":0.31},{"x":0.6,"y":0.33},{"x":0.8,"y":0.33},{"x":1.3,"y":0.25},{"x":1.6,"y":0.22},{"x":1.9,"y":0.2},{"x":2.1,"y":0.17},{"x":2.0,"y":0.08},{"x":1.8,"y":0.05},{"x":-0.6,"y":0.28},{"x":-1.2,"y":0.15},{"x":-1.1,"y":0.06},{"x":-1.0,"y":0.2},{"x":-0.9,"y":0.1},{"x":-0.8,"y":0.17},{"x":-0.7,"y":0.03},{"x":-0.6,"y":0.13},{"x":-0.5,"y":0.22},{"x":-0.4,"y":0.08},{"x":-0.3,"y":0.15},{"x":-0.2,"y":0.0},{"x":-0.1,"y":0.11},{"x":0.0,"y":0.19},{"x":0.1,"y":0.06},{"x":0.2,"y":0.14},{"x":0.3,"y":0.24},{"x":0.4,"y":0.09},{"x":0.5,"y":0.16},{"x":0.6,"y":0.02},{"x":0.7,"y":0.12},{"x":0.8,"y":0.2},{"x":0.9,"y":0.07},{"x":1.0,"y":0.14},{"x":1.1,"y":0.1},{"x":1.2,"y":0.18},{"x":1.3,"y":0.05},{"x":1.4,"y":0.13},{"x":1.5,"y":0.09},{"x":1.6,"y":0.15},{"x":1.7,"y":0.11},{"x":-0.95,"y":0.13},{"x":-0.55,"y":0.07},{"x":-0.15,"y":0.17},{"x":0.25,"y":0.1},{"x":0.65,"y":0.07},{"x":1.05,"y":0.04},{"x":-0.75,"y":0.24},{"x":-0.35,"y":0.04},{"x":0.05,"y":0.13},{"x":0.45,"y":0.2},{"x":0.85,"y":0.13},{"x":1.25,"y":0.12},{"x":-0.45,"y":0.14},{"x":0.15,"y":0.02},{"x":0.55,"y":0.11},{"x":0.95,"y":0.17},{"x":-0.25,"y":0.1},{"x":0.35,"y":0.05},{"x":0.75,"y":0.16},{"x":1.15,"y":0.15},{"x":-1.3,"y":0.18},{"x":-0.65,"y":0.18},{"x":-1.15,"y":0.1},{"x":-1.05,"y":0.17},{"x":-0.95,"y":0.05},{"x":-0.85,"y":0.13},{"x":-0.75,"y":0.09},{"x":-0.65,"y":0.07},{"x":-0.55,"y":0.16},{"x":-0.45,"y":0.03},{"x":-0.35,"y":0.11},{"x":-0.3,"y":0.2},{"x":-0.2,"y":0.07},{"x":-0.1,"y":0.15},{"x":0.0,"y":0.09},{"x":0.05,"y":0.22},{"x":0.15,"y":0.11},{"x":0.25,"y":0.17},{"x":0.35,"y":0.13},{"x":0.45,"y":0.04},{"x":0.55,"y":0.18},{"x":0.65,"y":0.13},{"x":0.75,"y":0.1},{"x":0.85,"y":0.04},{"x":0.95,"y":0.11},{"x":1.05,"y":0.19},{"x":1.15,"y":0.07},{"x":1.3,"y":0.15},{"x":1.45,"y":0.18},{"x":1.55,"y":0.05},{"x":1.65,"y":0.1},{"x":1.8,"y":0.14},{"x":1.95,"y":0.11},{"x":2.05,"y":0.13},{"x":-0.5,"y":0.3},{"x":0.2,"y":0.3},{"x":0.5,"y":0.27},{"x":-1.4,"y":0.2},{"x":-1.6,"y":0.05}],
"d8":[{"x":-2.89,"y":0.54},{"x":-2.92,"y":0.39},{"x":-2.89,"y":0.27},{"x":-2.87,"y":0.24},{"x":-2.87,"y":0.13},{"x":-2.87,"y":0.07},{"x":-2.76,"y":0.71},{"x":-2.74,"y":0.7},{"x":-2.76,"y":0.63},{"x":-2.74,"y":0.61},{"x":-2.61,"y":0.88},{"x":-2.56,"y":0.87},{"x":-2.5,"y":0.85},{"x":-2.58,"y":0.41},{"x":-2.56,"y":0.11},{"x":-2.5,"y":0.1},{"x":-2.4,"y":0.58},{"x":-2.37,"y":0.54},{"x":-2.35,"y":0.5},{"x":-2.37,"y":0.48},{"x":-2.4,"y":0.44},{"x":-2.33,"y":0.39},{"x":-2.4,"y":0.18},{"x":-2.35,"y":0.16},{"x":-2.38,"y":0.12},{"x":-2.14,"y":0.91},{"x":-2.04,"y":0.8},{"x":-2.09,"y":0.57},{"x":-2.04,"y":0.53},{"x":-1.99,"y":0.5},{"x":-1.94,"y":0.84},{"x":-1.88,"y":0.71},{"x":-1.94,"y":0.55},{"x":-1.83,"y":0.54},{"x":-2.09,"y":0.45},{"x":-1.99,"y":0.44},{"x":-1.63,"y":1.0},{"x":-1.63,"y":0.93},{"x":-1.63,"y":0.84},{"x":-1.6,"y":0.8},{"x":-1.65,"y":0.74},{"x":-1.63,"y":0.69},{"x":-1.57,"y":0.62},{"x":-1.44,"y":0.68},{"x":-1.42,"y":0.69},{"x":-1.47,"y":0.4},{"x":-1.42,"y":0.39},{"x":-1.06,"y":0.66},{"x":-0.8,"y":0.46},{"x":-0.77,"y":0.44},{"x":-0.8,"y":0.93},{"x":-0.72,"y":0.94},{"x":-0.43,"y":0.86},{"x":-0.49,"y":0.75},{"x":-0.46,"y":0.62},{"x":-0.33,"y":0.69},{"x":0.03,"y":0.4},{"x":0.08,"y":0.79},{"x":0.12,"y":0.61},{"x":0.34,"y":0.7},{"x":0.45,"y":0.82},{"x":0.6,"y":0.52},{"x":1.15,"y":0.93},{"x":1.46,"y":0.93},{"x":1.69,"y":0.91},{"x":1.64,"y":0.45},{"x":1.79,"y":0.16},{"x":-1.31,"y":0.36},{"x":-1.21,"y":0.31},{"x":-0.9,"y":0.36},{"x":-0.8,"y":0.36},{"x":-0.6,"y":0.33},{"x":0.2,"y":0.3},{"x":0.4,"y":0.33},{"x":0.6,"y":0.33},{"x":0.86,"y":0.33},{"x":0.98,"y":0.33},{"x":-2.2,"y":0.3},{"x":-2.0,"y":0.2},{"x":-1.8,"y":0.15},{"x":-1.7,"y":0.27},{"x":-2.2,"y":0.08},{"x":-1.9,"y":0.07},{"x":-1.6,"y":0.12},{"x":-1.5,"y":0.18},{"x":-1.3,"y":0.05},{"x":-1.2,"y":0.15},{"x":-1.1,"y":0.22},{"x":-1.0,"y":0.1},{"x":-0.9,"y":0.17},{"x":-0.7,"y":0.07},{"x":-0.6,"y":0.2},{"x":-0.5,"y":0.0},{"x":-0.4,"y":0.12},{"x":-0.3,"y":0.25},{"x":-0.2,"y":0.09},{"x":-0.1,"y":0.17},{"x":0.0,"y":0.05},{"x":0.1,"y":0.13},{"x":0.2,"y":0.2},{"x":0.3,"y":0.02},{"x":0.35,"y":0.1},{"x":0.45,"y":0.16},{"x":0.5,"y":0.06},{"x":0.55,"y":0.24},{"x":0.6,"y":0.12},{"x":0.7,"y":0.18},{"x":0.75,"y":0.04},{"x":0.8,"y":0.1},{"x":0.85,"y":0.22},{"x":0.9,"y":0.14},{"x":0.95,"y":0.07},{"x":1.0,"y":0.17},{"x":1.05,"y":0.0},{"x":1.1,"y":0.11},{"x":1.15,"y":0.2},{"x":1.2,"y":0.06},{"x":1.3,"y":0.14},{"x":1.4,"y":0.09},{"x":1.5,"y":0.18},{"x":1.6,"y":0.12},{"x":-0.25,"y":0.14},{"x":0.05,"y":0.1},{"x":0.25,"y":0.07},{"x":0.65,"y":0.08},{"x":1.25,"y":0.1},{"x":-0.75,"y":0.14},{"x":-1.4,"y":0.1},{"x":-0.55,"y":0.11},{"x":0.15,"y":0.17},{"x":0.4,"y":0.13},{"x":0.7,"y":0.13},{"x":0.95,"y":0.16},{"x":1.35,"y":0.17},{"x":-2.6,"y":0.16},{"x":-2.7,"y":0.1},{"x":-1.75,"y":0.08},{"x":-2.3,"y":0.13},{"x":-2.1,"y":0.15},{"x":-1.9,"y":0.12},{"x":-1.85,"y":0.28},{"x":-1.6,"y":0.06},{"x":-1.45,"y":0.13},{"x":-1.35,"y":0.2},{"x":-1.15,"y":0.08},{"x":-1.05,"y":0.15},{"x":-0.95,"y":0.05},{"x":-0.85,"y":0.12},{"x":-0.65,"y":0.14},{"x":-0.45,"y":0.19},{"x":-0.35,"y":0.06},{"x":-0.15,"y":0.11},{"x":-0.05,"y":0.14},{"x":0.0,"y":0.2},{"x":0.1,"y":0.07},{"x":0.2,"y":0.12},{"x":0.3,"y":0.16},{"x":0.4,"y":0.08},{"x":0.5,"y":0.12},{"x":0.55,"y":0.03},{"x":0.65,"y":0.17},{"x":0.75,"y":0.11},{"x":0.8,"y":0.15},{"x":0.9,"y":0.05},{"x":1.0,"y":0.1},{"x":1.1,"y":0.15},{"x":1.2,"y":0.13},{"x":1.3,"y":0.07},{"x":1.4,"y":0.15},{"x":1.5,"y":0.08},{"x":1.55,"y":0.14},{"x":-0.5,"y":0.28},{"x":-1.0,"y":0.3},{"x":0.0,"y":0.28},{"x":0.75,"y":0.28},{"x":1.2,"y":0.25},{"x":-2.7,"y":0.17}]
},
"vconcat":[
{"vconcat":[
{"hconcat":[
{"width":165,"height":141,"encoding":{"x":{"field":"x","type":"quantitative","scale":{"domain":[-6.3,3.52],"nice":false,"zero":false},"axis":{"values":[-6,-4,-2,0,2],"title":"Digit span forward"}},"y":{"field":"y","type":"quantitative","scale":{"domain":[-0.05,1.05],"nice":false},"axis":{"values":[0,0.25,0.5,0.75,1],"format":".2f","title":"cTI disease score"}}},
"layer":[{"data":{"name":"d1"},"mark":"circle"},{"data":{"name":"fits"},"transform":[{"filter":"datum.p==1"}],"mark":{"type":"line","color":"#1b75bb","strokeWidth":3},"encoding":{}}]},
{"width":165,"height":141,"encoding":{"x":{"field":"x","type":"quantitative","scale":{"domain":[-14.05,4.35],"nice":false,"zero":false},"axis":{"values":[-10,-5,0],"title":"Digit span backward"}},"y":{"field":"y","type":"quantitative","scale":{"domain":[-0.05,1.05],"nice":false},"axis":{"values":[0,0.25,0.5,0.75,1],"format":".2f","title":"cTI disease score"}}},
"layer":[{"data":{"name":"d2"},"mark":"circle"},{"data":{"name":"fits"},"transform":[{"filter":"datum.p==2"}],"mark":{"type":"line","color":"#1b75bb","strokeWidth":3},"encoding":{}}]},
{"width":165,"height":141,"encoding":{"x":{"field":"x","type":"quantitative","scale":{"domain":[-2.3,8.5],"nice":false,"zero":false},"axis":{"values":[0,2.5,5,7.5],"format":".1f","title":"TMTA time"}},"y":{"field":"y","type":"quantitative","scale":{"domain":[-0.05,1.05],"nice":false},"axis":{"values":[0,0.25,0.5,0.75,1],"format":".2f","title":"cTI disease score"}}},
"layer":[{"data":{"name":"d3"},"mark":"circle"},{"data":{"name":"fits"},"transform":[{"filter":"datum.p==3"}],"mark":{"type":"line","color":"#1b75bb","strokeWidth":3},"encoding":{}}]}
]},
{"hconcat":[
{"width":165,"height":141,"encoding":{"x":{"field":"x","type":"quantitative","scale":{"domain":[-2.02,5.83],"nice":false,"zero":false},"axis":{"values":[0,2,4],"title":"TMTB time"}},"y":{"field":"y","type":"quantitative","scale":{"domain":[-0.05,1.05],"nice":false},"axis":{"values":[0,0.25,0.5,0.75,1],"format":".2f","title":"cTI disease score"}}},
"layer":[{"data":{"name":"d4"},"mark":"circle"},{"data":{"name":"fits"},"transform":[{"filter":"datum.p==4"}],"mark":{"type":"line","color":"#1b75bb","strokeWidth":3},"encoding":{}}]},
{"width":165,"height":141,"encoding":{"x":{"field":"x","type":"quantitative","scale":{"domain":[-4.15,2.87],"nice":false,"zero":false},"axis":{"values":[-4,-2,0,2],"title":"Digit Symbol"}},"y":{"field":"y","type":"quantitative","scale":{"domain":[-0.05,1.05],"nice":false},"axis":{"values":[0,0.25,0.5,0.75,1],"format":".2f","title":"cTI disease score"}}},
"layer":[{"data":{"name":"d5"},"mark":"circle"},{"data":{"name":"fits"},"transform":[{"filter":"datum.p==5"}],"mark":{"type":"line","color":"#1b75bb","strokeWidth":3},"encoding":{}}]},
{"width":165,"height":141,"encoding":{"x":{"field":"x","type":"quantitative","scale":{"domain":[-16.1,2.05],"nice":false,"zero":false},"axis":{"values":[-15,-10,-5,0],"title":"Boston Naming"}},"y":{"field":"y","type":"quantitative","scale":{"domain":[-0.05,1.05],"nice":false},"axis":{"values":[0,0.25,0.5,0.75,1],"format":".2f","title":"cTI disease score"}}},
"layer":[{"data":{"name":"d6"},"mark":"circle"},{"data":{"name":"fits"},"transform":[{"filter":"datum.p==6"}],"mark":{"type":"line","color":"#1b75bb","strokeWidth":3},"encoding":{}}]}
]}
],"spacing":21},
{"hconcat":[
{"width":165,"height":141,"encoding":{"x":{"field":"x","type":"quantitative","scale":{"domain":[-4.5,2.52],"nice":false,"zero":false},"axis":{"values":[-4,-2,0,2],"title":"VF animals"}},"y":{"field":"y","type":"quantitative","scale":{"domain":[-0.05,1.05],"nice":false},"axis":{"values":[0,0.25,0.5,0.75,1],"format":".2f","title":"cTI disease score"}}},
"layer":[{"data":{"name":"d7"},"mark":"circle"},{"data":{"name":"fits"},"transform":[{"filter":"datum.p==7"}],"mark":{"type":"line","color":"#1b75bb","strokeWidth":3},"encoding":{}}]},
{"width":165,"height":141,"encoding":{"x":{"field":"x","type":"quantitative","scale":{"domain":[-3.1,2.03],"nice":false,"zero":false},"axis":{"values":[-3,-2,-1,0,1,2],"title":"Block design"}},"y":{"field":"y","type":"quantitative","scale":{"domain":[-0.05,1.05],"nice":false},"axis":{"values":[0,0.25,0.5,0.75,1],"format":".2f","title":"cTI disease score"}}},
"layer":[{"data":{"name":"d8"},"mark":"circle"},{"data":{"name":"fits"},"transform":[{"filter":"datum.p==8"}],"mark":{"type":"line","color":"#1b75bb","strokeWidth":3},"encoding":{}}]}
]}
],
"spacing":12
}
